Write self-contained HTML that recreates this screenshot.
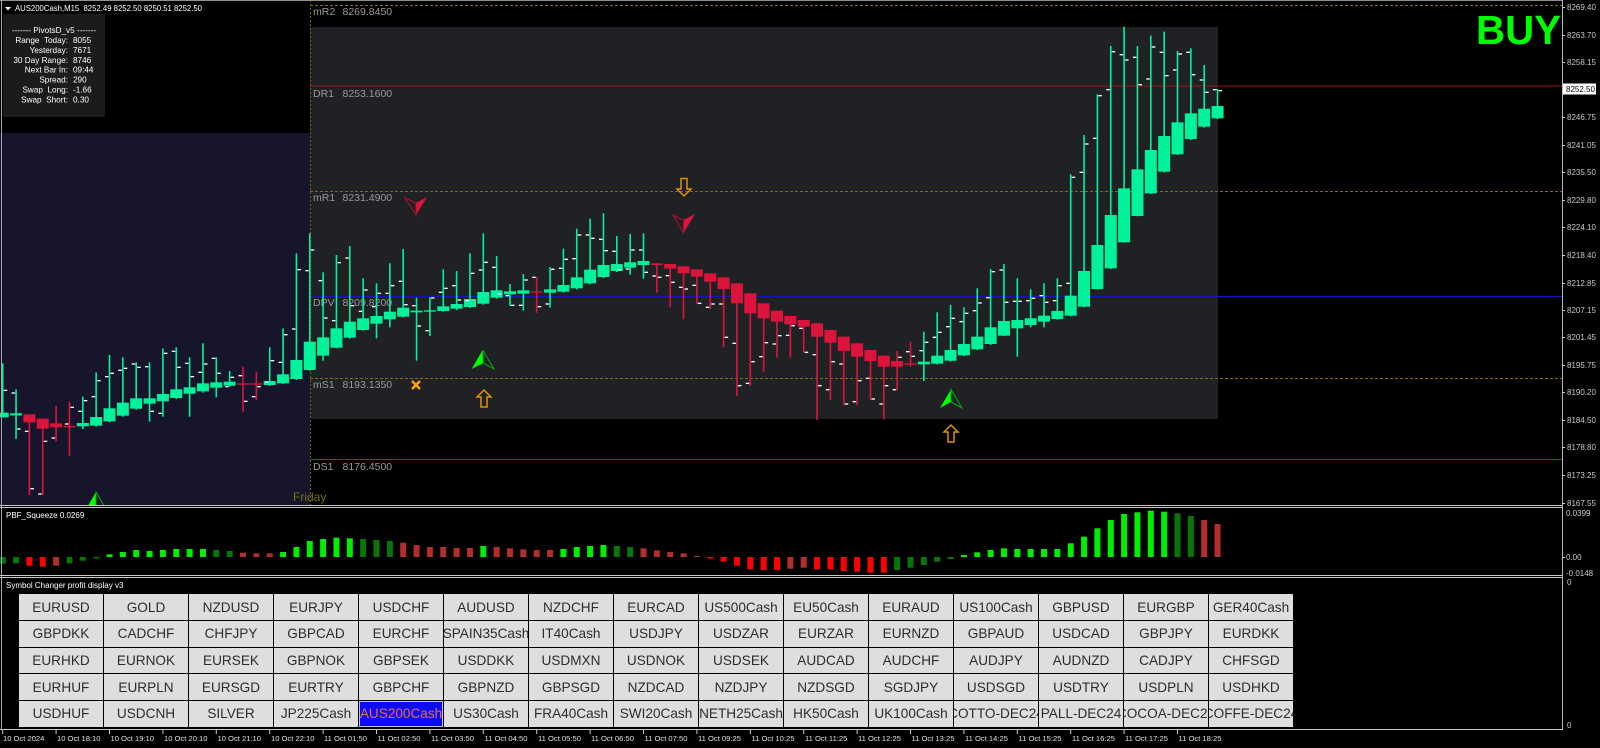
<!DOCTYPE html>
<html><head><meta charset="utf-8">
<style>
html,body{margin:0;padding:0;background:#000;}
body{width:1600px;height:748px;overflow:hidden;position:relative;font-family:"Liberation Sans",Arial,sans-serif;}
svg text{font-family:"Liberation Sans",Arial,sans-serif;white-space:pre;}
.g rect{fill:#00f39a}
.r rect{fill:#dc143c}
.g .d,.r .d{fill:#ffffff}
.G{fill:#00ee00}.dg{fill:#087508}.R{fill:#ff0000}.dr{fill:#b32d2d}
.b{position:absolute;width:84px;height:25.6px;background:#dedede;display:flex;align-items:center;justify-content:center;overflow:hidden;white-space:nowrap;font-size:13.6px;color:#2c2c2c;font-family:"Liberation Sans",Arial,sans-serif;}
.sel{background:#0a0aff;color:#f07028;box-shadow:inset 0 0 0 1px #c0c0ff;}
</style></head><body>
<svg width="1600" height="748" viewBox="0 0 1600 748" style="position:absolute;left:0;top:0">
<rect width="1600" height="748" fill="#000"/>
<defs><clipPath id="mc"><rect x="0" y="0" width="1562" height="505"/></clipPath></defs>
<g clip-path="url(#mc)">
<rect x="0" y="133" width="310" height="372" fill="#16152b"/>
<rect x="310" y="27" width="908" height="392" fill="#1f2124"/>
<line x1="310" y1="5.5" x2="1562" y2="5.5" stroke="#8a6a1a" stroke-dasharray="3,2"/>
<line x1="310" y1="86" x2="1562" y2="86" stroke="#a01515"/>
<line x1="310" y1="191.5" x2="1562" y2="191.5" stroke="#8a6a1a" stroke-dasharray="3,2"/>
<line x1="310" y1="296.5" x2="1562" y2="296.5" stroke="#1515c8"/>
<line x1="310" y1="378.5" x2="1562" y2="378.5" stroke="#8a6a1a" stroke-dasharray="3,2"/>
<line x1="310" y1="459.5" x2="1562" y2="459.5" stroke="#137013"/>
<line x1="310.5" y1="0" x2="310.5" y2="505" stroke="#7a6010" stroke-dasharray="2,2"/>
<g font-size="10.5" fill="#9a9a9a">
<text x="313" y="15">mR2</text><text x="342.5" y="15">8269.8450</text>
<text x="313" y="97">DR1</text><text x="342.5" y="97">8253.1600</text>
<text x="313" y="201">mR1</text><text x="342.5" y="201">8231.4900</text>
<text x="313" y="306">DPV</text><text x="342.5" y="306">8209.8200</text>
<text x="313" y="388">mS1</text><text x="342.5" y="388">8193.1350</text>
<text x="313" y="470">DS1</text><text x="342.5" y="470">8176.4500</text>
</g>
<text x="293" y="501" font-size="12" fill="#727212">Friday</text>

<g transform="translate(0,220) scale(1,0.333333)">
<g class="g" transform="translate(2.7)"><rect x="-.8" y="430" width="1.6" height="162"/><rect x="-6" y="578" width="12" height="14"/><rect class="d" x="1" y="509" width="3.5" height="4"/></g>
<g class="g" transform="translate(16.05)"><rect x="-.8" y="508" width="1.6" height="149"/><rect x="-6" y="580" width="12" height="6"/><rect class="d" x="-4.5" y="517" width="3.5" height="4"/><rect class="d" x="1" y="625" width="3.5" height="4"/></g>
<g class="r" transform="translate(29.4)"><rect x="-.8" y="583" width="1.6" height="242"/><rect x="-6" y="583" width="12" height="24"/><rect class="d" x="-4.5" y="632" width="3.5" height="4"/><rect class="d" x="1" y="804" width="3.5" height="4"/></g>
<g class="r" transform="translate(42.75)"><rect x="-.8" y="596" width="1.6" height="229"/><rect x="-6" y="596" width="12" height="30"/><rect class="d" x="1" y="662" width="3.5" height="4"/><rect class="d" x="-4.5" y="820" width="3.5" height="4"/></g>
<g class="r" transform="translate(56.1)"><rect x="-.8" y="558" width="1.6" height="106"/><rect x="-6" y="610" width="12" height="12"/><rect class="d" x="-4.5" y="652" width="3.5" height="4"/></g>
<g class="r" transform="translate(69.45)"><rect x="-.8" y="545" width="1.6" height="162"/><rect x="-6" y="618" width="12" height="4"/><rect class="d" x="1" y="560" width="3.5" height="4"/><rect class="d" x="-4.5" y="610" width="3.5" height="4"/></g>
<g class="g" transform="translate(82.8)"><rect x="-.8" y="530" width="1.6" height="97"/><rect x="-6" y="609" width="12" height="10"/><rect class="d" x="1" y="540" width="3.5" height="4"/><rect class="d" x="-4.5" y="572" width="3.5" height="4"/></g>
<g class="g" transform="translate(96.15)"><rect x="-.8" y="457" width="1.6" height="163"/><rect x="-6" y="591" width="12" height="26"/><rect class="d" x="1" y="480" width="3.5" height="4"/><rect class="d" x="-4.5" y="528" width="3.5" height="4"/></g>
<g class="g" transform="translate(109.5)"><rect x="-.8" y="405" width="1.6" height="202"/><rect x="-6" y="565" width="12" height="39"/><rect class="d" x="-4.5" y="468" width="3.5" height="4"/><rect class="d" x="1" y="458" width="3.5" height="4"/></g>
<g class="g" transform="translate(122.85)"><rect x="-.8" y="412" width="1.6" height="178"/><rect x="-6" y="548" width="12" height="39"/><rect class="d" x="-4.5" y="449" width="3.5" height="4"/><rect class="d" x="1" y="443" width="3.5" height="4"/></g>
<g class="g" transform="translate(136.2)"><rect x="-.8" y="427" width="1.6" height="142"/><rect x="-6" y="535" width="12" height="31"/><rect class="d" x="-4.5" y="430" width="3.5" height="4"/><rect class="d" x="1" y="440" width="3.5" height="4"/></g>
<g class="g" transform="translate(149.55)"><rect x="-.8" y="427" width="1.6" height="178"/><rect x="-6" y="535" width="12" height="16"/><rect class="d" x="-4.5" y="438" width="3.5" height="4"/><rect class="d" x="1" y="572" width="3.5" height="4"/></g>
<g class="g" transform="translate(162.9)"><rect x="-.8" y="385" width="1.6" height="205"/><rect x="-6" y="522" width="12" height="22"/><rect class="d" x="1" y="398" width="3.5" height="4"/><rect class="d" x="-4.5" y="578" width="3.5" height="4"/></g>
<g class="g" transform="translate(176.25)"><rect x="-.8" y="382" width="1.6" height="155"/><rect x="-6" y="508" width="12" height="26"/><rect class="d" x="-4.5" y="392" width="3.5" height="4"/><rect class="d" x="1" y="440" width="3.5" height="4"/></g>
<g class="g" transform="translate(189.6)"><rect x="-.8" y="412" width="1.6" height="178"/><rect x="-6" y="502" width="12" height="19"/><rect class="d" x="-4.5" y="428" width="3.5" height="4"/><rect class="d" x="1" y="468" width="3.5" height="4"/></g>
<g class="g" transform="translate(202.95)"><rect x="-.8" y="370" width="1.6" height="148"/><rect x="-6" y="490" width="12" height="24"/><rect class="d" x="1" y="430" width="3.5" height="4"/><rect class="d" x="-4.5" y="455" width="3.5" height="4"/></g>
<g class="g" transform="translate(216.3)"><rect x="-.8" y="412" width="1.6" height="120"/><rect x="-6" y="487" width="12" height="16"/><rect class="d" x="-4.5" y="413" width="3.5" height="4"/><rect class="d" x="1" y="458" width="3.5" height="4"/></g>
<g class="g" transform="translate(229.65)"><rect x="-.8" y="453" width="1.6" height="47"/><rect x="-6" y="485" width="12" height="12"/><rect class="d" x="1" y="470" width="3.5" height="4"/><rect class="d" x="-4.5" y="498" width="3.5" height="4"/></g>
<g class="r" transform="translate(243)"><rect x="-.8" y="440" width="1.6" height="135"/><rect x="-6" y="490" width="12" height="4"/><rect class="d" x="-4.5" y="465" width="3.5" height="4"/><rect class="d" x="1" y="542" width="3.5" height="4"/></g>
<g class="r" transform="translate(256.35)"><rect x="-.8" y="455" width="1.6" height="85"/><rect x="-6" y="490" width="12" height="4"/><rect class="d" x="1" y="498" width="3.5" height="4"/><rect class="d" x="-4.5" y="528" width="3.5" height="4"/></g>
<g class="g" transform="translate(269.7)"><rect x="-.8" y="382" width="1.6" height="116"/><rect x="-6" y="483" width="12" height="12"/><rect class="d" x="1" y="420" width="3.5" height="4"/><rect class="d" x="-4.5" y="485" width="3.5" height="4"/></g>
<g class="g" transform="translate(283.05)"><rect x="-.8" y="325" width="1.6" height="167"/><rect x="-6" y="463" width="12" height="27"/><rect class="d" x="1" y="342" width="3.5" height="4"/><rect class="d" x="-4.5" y="425" width="3.5" height="4"/></g>
<g class="g" transform="translate(296.4)"><rect x="-.8" y="100" width="1.6" height="380"/><rect x="-6" y="420" width="12" height="57"/><rect class="d" x="1" y="147" width="3.5" height="4"/><rect class="d" x="-4.5" y="325" width="3.5" height="4"/></g>
<g class="g" transform="translate(309.75)"><rect x="-.8" y="40" width="1.6" height="412"/><rect x="-6" y="365" width="12" height="85"/><rect class="d" x="1" y="88" width="3.5" height="4"/><rect class="d" x="-4.5" y="150" width="3.5" height="4"/></g>
<g class="g" transform="translate(323.1)"><rect x="-.8" y="157" width="1.6" height="265"/><rect x="-6" y="352" width="12" height="55"/><rect class="d" x="-4.5" y="180" width="3.5" height="4"/><rect class="d" x="1" y="292" width="3.5" height="4"/></g>
<g class="g" transform="translate(336.45)"><rect x="-.8" y="105" width="1.6" height="280"/><rect x="-6" y="325" width="12" height="58"/><rect class="d" x="1" y="126" width="3.5" height="4"/><rect class="d" x="-4.5" y="300" width="3.5" height="4"/></g>
<g class="g" transform="translate(349.8)"><rect x="-.8" y="78" width="1.6" height="278"/><rect x="-6" y="305" width="12" height="48"/><rect class="d" x="-4.5" y="112" width="3.5" height="4"/><rect class="d" x="1" y="255" width="3.5" height="4"/></g>
<g class="g" transform="translate(363.15)"><rect x="-.8" y="175" width="1.6" height="157"/><rect x="-6" y="295" width="12" height="35"/><rect class="d" x="1" y="208" width="3.5" height="4"/><rect class="d" x="-4.5" y="272" width="3.5" height="4"/></g>
<g class="g" transform="translate(376.5)"><rect x="-.8" y="190" width="1.6" height="165"/><rect x="-6" y="288" width="12" height="23"/><rect class="d" x="1" y="218" width="3.5" height="4"/><rect class="d" x="-4.5" y="258" width="3.5" height="4"/></g>
<g class="g" transform="translate(389.85)"><rect x="-.8" y="130" width="1.6" height="192"/><rect x="-6" y="275" width="12" height="23"/><rect class="d" x="1" y="195" width="3.5" height="4"/><rect class="d" x="-4.5" y="218" width="3.5" height="4"/></g>
<g class="g" transform="translate(403.2)"><rect x="-.8" y="87" width="1.6" height="205"/><rect x="-6" y="263" width="12" height="27"/><rect class="d" x="-4.5" y="182" width="3.5" height="4"/><rect class="d" x="1" y="252" width="3.5" height="4"/></g>
</g>

<g transform="translate(0,170) scale(1,0.333333)">
<g class="g" transform="translate(416.55)"><rect x="-.8" y="383" width="1.6" height="189"/><rect x="-6" y="422" width="12" height="5"/><rect class="d" x="-4.5" y="405" width="3.5" height="4"/><rect class="d" x="1" y="466" width="3.5" height="4"/></g>
<g class="g" transform="translate(429.9)"><rect x="-.8" y="382" width="1.6" height="116"/><rect x="-6" y="421" width="12" height="4"/><rect class="d" x="1" y="382" width="3.5" height="4"/><rect class="d" x="-4.5" y="480" width="3.5" height="4"/></g>
<g class="g" transform="translate(443.25)"><rect x="-.8" y="298" width="1.6" height="127"/><rect x="-6" y="409" width="12" height="14"/><rect class="d" x="1" y="353" width="3.5" height="4"/><rect class="d" x="-4.5" y="365" width="3.5" height="4"/></g>
<g class="g" transform="translate(456.6)"><rect x="-.8" y="303" width="1.6" height="117"/><rect x="-6" y="402" width="12" height="14"/><rect class="d" x="-4.5" y="345" width="3.5" height="4"/><rect class="d" x="1" y="388" width="3.5" height="4"/></g>
<g class="g" transform="translate(469.95)"><rect x="-.8" y="250" width="1.6" height="164"/><rect x="-6" y="387" width="12" height="24"/><rect class="d" x="1" y="308" width="3.5" height="4"/><rect class="d" x="-4.5" y="390" width="3.5" height="4"/></g>
<g class="g" transform="translate(483.3)"><rect x="-.8" y="190" width="1.6" height="214"/><rect x="-6" y="366" width="12" height="35"/><rect class="d" x="1" y="275" width="3.5" height="4"/><rect class="d" x="-4.5" y="298" width="3.5" height="4"/></g>
<g class="g" transform="translate(496.65)"><rect x="-.8" y="258" width="1.6" height="128"/><rect x="-6" y="361" width="12" height="22"/><rect class="d" x="-4.5" y="290" width="3.5" height="4"/><rect class="d" x="1" y="370" width="3.5" height="4"/></g>
<g class="g" transform="translate(510)"><rect x="-.8" y="342" width="1.6" height="66"/><rect x="-6" y="364" width="12" height="9"/><rect class="d" x="-4.5" y="375" width="3.5" height="4"/><rect class="d" x="1" y="404" width="3.5" height="4"/></g>
<g class="g" transform="translate(523.35)"><rect x="-.8" y="312" width="1.6" height="110"/><rect x="-6" y="361" width="12" height="10"/><rect class="d" x="1" y="328" width="3.5" height="4"/><rect class="d" x="-4.5" y="404" width="3.5" height="4"/></g>
<g class="r" transform="translate(536.7)"><rect x="-.8" y="320" width="1.6" height="108"/><rect x="-6" y="364" width="12" height="4"/><rect class="d" x="-4.5" y="320" width="3.5" height="4"/><rect class="d" x="1" y="408" width="3.5" height="4"/></g>
<g class="g" transform="translate(550.05)"><rect x="-.8" y="291" width="1.6" height="122"/><rect x="-6" y="358" width="12" height="10"/><rect class="d" x="1" y="296" width="3.5" height="4"/><rect class="d" x="-4.5" y="400" width="3.5" height="4"/></g>
<g class="g" transform="translate(563.4)"><rect x="-.8" y="236" width="1.6" height="132"/><rect x="-6" y="345" width="12" height="20"/><rect class="d" x="1" y="266" width="3.5" height="4"/><rect class="d" x="-4.5" y="293" width="3.5" height="4"/></g>
<g class="g" transform="translate(576.75)"><rect x="-.8" y="176" width="1.6" height="182"/><rect x="-6" y="322" width="12" height="33"/><rect class="d" x="1" y="193" width="3.5" height="4"/><rect class="d" x="-4.5" y="264" width="3.5" height="4"/></g>
<g class="g" transform="translate(590.1)"><rect x="-.8" y="146" width="1.6" height="197"/><rect x="-6" y="299" width="12" height="41"/><rect class="d" x="-4.5" y="193" width="3.5" height="4"/><rect class="d" x="1" y="203" width="3.5" height="4"/></g>
<g class="g" transform="translate(603.45)"><rect x="-.8" y="130" width="1.6" height="194"/><rect x="-6" y="285" width="12" height="36"/><rect class="d" x="-4.5" y="206" width="3.5" height="4"/><rect class="d" x="1" y="240" width="3.5" height="4"/></g>
<g class="g" transform="translate(616.8)"><rect x="-.8" y="198" width="1.6" height="108"/><rect x="-6" y="282" width="12" height="21"/><rect class="d" x="-4.5" y="242" width="3.5" height="4"/><rect class="d" x="1" y="297" width="3.5" height="4"/></g>
<g class="g" transform="translate(630.15)"><rect x="-.8" y="192" width="1.6" height="122"/><rect x="-6" y="277" width="12" height="16"/><rect class="d" x="1" y="238" width="3.5" height="4"/><rect class="d" x="-4.5" y="295" width="3.5" height="4"/></g>
<g class="g" transform="translate(643.5)"><rect x="-.8" y="190" width="1.6" height="136"/><rect x="-6" y="273" width="12" height="12"/><rect class="d" x="-4.5" y="238" width="3.5" height="4"/><rect class="d" x="1" y="305" width="3.5" height="4"/></g>
<g class="r" transform="translate(656.85)"><rect x="-.8" y="280" width="1.6" height="88"/><rect x="-6" y="280" width="12" height="5"/><rect class="d" x="-4.5" y="316" width="3.5" height="4"/><rect class="d" x="1" y="320" width="3.5" height="4"/></g>
<g class="r" transform="translate(670.2)"><rect x="-.8" y="282" width="1.6" height="130"/><rect x="-6" y="282" width="12" height="14"/><rect class="d" x="-4.5" y="315" width="3.5" height="4"/><rect class="d" x="1" y="335" width="3.5" height="4"/></g>
<g class="r" transform="translate(683.55)"><rect x="-.8" y="289" width="1.6" height="159"/><rect x="-6" y="289" width="12" height="21"/><rect class="d" x="-4.5" y="350" width="3.5" height="4"/><rect class="d" x="1" y="355" width="3.5" height="4"/></g>
<g class="r" transform="translate(696.9)"><rect x="-.8" y="298" width="1.6" height="105"/><rect x="-6" y="298" width="12" height="22"/><rect class="d" x="-4.5" y="344" width="3.5" height="4"/><rect class="d" x="1" y="398" width="3.5" height="4"/></g>
<g class="r" transform="translate(710.25)"><rect x="-.8" y="310" width="1.6" height="107"/><rect x="-6" y="310" width="12" height="25"/><rect class="d" x="-4.5" y="410" width="3.5" height="4"/><rect class="d" x="1" y="400" width="3.5" height="4"/></g>
<g class="r" transform="translate(723.6)"><rect x="-.8" y="322" width="1.6" height="210"/><rect x="-6" y="322" width="12" height="35"/><rect class="d" x="-4.5" y="400" width="3.5" height="4"/><rect class="d" x="1" y="500" width="3.5" height="4"/></g>
<g class="r" transform="translate(736.95)"><rect x="-.8" y="340" width="1.6" height="338"/><rect x="-6" y="340" width="12" height="60"/><rect class="d" x="-4.5" y="518" width="3.5" height="4"/><rect class="d" x="1" y="645" width="3.5" height="4"/></g>
<g class="r" transform="translate(750.3)"><rect x="-.8" y="370" width="1.6" height="278"/><rect x="-6" y="370" width="12" height="60"/><rect class="d" x="1" y="573" width="3.5" height="4"/><rect class="d" x="-4.5" y="638" width="3.5" height="4"/></g>
<g class="r" transform="translate(763.65)"><rect x="-.8" y="400" width="1.6" height="205"/><rect x="-6" y="400" width="12" height="45"/><rect class="d" x="1" y="516" width="3.5" height="4"/><rect class="d" x="-4.5" y="558" width="3.5" height="4"/></g>
<g class="r" transform="translate(777)"><rect x="-.8" y="422" width="1.6" height="141"/><rect x="-6" y="422" width="12" height="33"/><rect class="d" x="1" y="495" width="3.5" height="4"/><rect class="d" x="-4.5" y="520" width="3.5" height="4"/></g>
<g class="r" transform="translate(790.35)"><rect x="-.8" y="438" width="1.6" height="125"/><rect x="-6" y="438" width="12" height="25"/><rect class="d" x="1" y="465" width="3.5" height="4"/><rect class="d" x="-4.5" y="494" width="3.5" height="4"/></g>
<g class="r" transform="translate(803.7)"><rect x="-.8" y="450" width="1.6" height="98"/><rect x="-6" y="450" width="12" height="20"/><rect class="d" x="-4.5" y="473" width="3.5" height="4"/><rect class="d" x="1" y="545" width="3.5" height="4"/></g>
<g class="r" transform="translate(817.05)"><rect x="-.8" y="460" width="1.6" height="290"/><rect x="-6" y="460" width="12" height="40"/><rect class="d" x="-4.5" y="552" width="3.5" height="4"/><rect class="d" x="1" y="645" width="3.5" height="4"/></g>
</g>

<g transform="translate(0,15) scale(1,0.333333)">
<g class="r" transform="translate(830.4)"><rect x="-.8" y="945" width="1.6" height="210"/><rect x="-6" y="945" width="12" height="38"/><rect class="d" x="1" y="1038" width="3.5" height="4"/><rect class="d" x="-4.5" y="1122" width="3.5" height="4"/></g>
<g class="r" transform="translate(843.75)"><rect x="-.8" y="965" width="1.6" height="205"/><rect x="-6" y="965" width="12" height="43"/><rect class="d" x="-4.5" y="1045" width="3.5" height="4"/><rect class="d" x="1" y="1165" width="3.5" height="4"/></g>
<g class="r" transform="translate(857.1)"><rect x="-.8" y="985" width="1.6" height="185"/><rect x="-6" y="985" width="12" height="40"/><rect class="d" x="1" y="1095" width="3.5" height="4"/><rect class="d" x="-4.5" y="1158" width="3.5" height="4"/></g>
<g class="r" transform="translate(870.45)"><rect x="-.8" y="1005" width="1.6" height="150"/><rect x="-6" y="1005" width="12" height="33"/><rect class="d" x="-4.5" y="1088" width="3.5" height="4"/><rect class="d" x="1" y="1150" width="3.5" height="4"/></g>
<g class="r" transform="translate(883.8)"><rect x="-.8" y="1022" width="1.6" height="191"/><rect x="-6" y="1022" width="12" height="33"/><rect class="d" x="1" y="1110" width="3.5" height="4"/><rect class="d" x="-4.5" y="1165" width="3.5" height="4"/></g>
<g class="r" transform="translate(897.15)"><rect x="-.8" y="1008" width="1.6" height="117"/><rect x="-6" y="1038" width="12" height="17"/><rect class="d" x="1" y="1025" width="3.5" height="4"/><rect class="d" x="-4.5" y="1122" width="3.5" height="4"/></g>
<g class="r" transform="translate(910.5)"><rect x="-.8" y="980" width="1.6" height="75"/><rect x="-6" y="1045" width="12" height="4"/><rect class="d" x="-4.5" y="1008" width="3.5" height="4"/><rect class="d" x="1" y="1022" width="3.5" height="4"/></g>
<g class="g" transform="translate(923.85)"><rect x="-.8" y="950" width="1.6" height="148"/><rect x="-6" y="1040" width="12" height="8"/><rect class="d" x="1" y="980" width="3.5" height="4"/><rect class="d" x="-4.5" y="1005" width="3.5" height="4"/></g>
<g class="g" transform="translate(937.2)"><rect x="-.8" y="892" width="1.6" height="156"/><rect x="-6" y="1022" width="12" height="24"/><rect class="d" x="1" y="950" width="3.5" height="4"/><rect class="d" x="-4.5" y="965" width="3.5" height="4"/></g>
<g class="g" transform="translate(950.55)"><rect x="-.8" y="870" width="1.6" height="170"/><rect x="-6" y="1005" width="12" height="32"/><rect class="d" x="1" y="908" width="3.5" height="4"/><rect class="d" x="-4.5" y="933" width="3.5" height="4"/></g>
<g class="g" transform="translate(963.9)"><rect x="-.8" y="877" width="1.6" height="146"/><rect x="-6" y="987" width="12" height="34"/><rect class="d" x="1" y="893" width="3.5" height="4"/><rect class="d" x="-4.5" y="918" width="3.5" height="4"/></g>
<g class="g" transform="translate(977.25)"><rect x="-.8" y="820" width="1.6" height="185"/><rect x="-6" y="965" width="12" height="38"/><rect class="d" x="1" y="862" width="3.5" height="4"/><rect class="d" x="-4.5" y="885" width="3.5" height="4"/></g>
<g class="g" transform="translate(990.6)"><rect x="-.8" y="762" width="1.6" height="228"/><rect x="-6" y="937" width="12" height="50"/><rect class="d" x="1" y="768" width="3.5" height="4"/><rect class="d" x="-4.5" y="846" width="3.5" height="4"/></g>
<g class="g" transform="translate(1003.95)"><rect x="-.8" y="747" width="1.6" height="216"/><rect x="-6" y="918" width="12" height="44"/><rect class="d" x="-4.5" y="763" width="3.5" height="4"/><rect class="d" x="1" y="860" width="3.5" height="4"/></g>
<g class="g" transform="translate(1017.3)"><rect x="-.8" y="790" width="1.6" height="235"/><rect x="-6" y="915" width="12" height="25"/><rect class="d" x="-4.5" y="857" width="3.5" height="4"/><rect class="d" x="1" y="857" width="3.5" height="4"/></g>
<g class="g" transform="translate(1030.65)"><rect x="-.8" y="823" width="1.6" height="114"/><rect x="-6" y="910" width="12" height="20"/><rect class="d" x="1" y="848" width="3.5" height="4"/><rect class="d" x="-4.5" y="855" width="3.5" height="4"/></g>
<g class="g" transform="translate(1044)"><rect x="-.8" y="805" width="1.6" height="132"/><rect x="-6" y="902" width="12" height="18"/><rect class="d" x="-4.5" y="840" width="3.5" height="4"/><rect class="d" x="1" y="860" width="3.5" height="4"/></g>
<g class="g" transform="translate(1057.35)"><rect x="-.8" y="790" width="1.6" height="124"/><rect x="-6" y="888" width="12" height="24"/><rect class="d" x="1" y="810" width="3.5" height="4"/><rect class="d" x="-4.5" y="855" width="3.5" height="4"/></g>
<g class="g" transform="translate(1070.7)"><rect x="-.8" y="478" width="1.6" height="426"/><rect x="-6" y="842" width="12" height="60"/><rect class="d" x="1" y="485" width="3.5" height="4"/><rect class="d" x="-4.5" y="803" width="3.5" height="4"/></g>
<g class="g" transform="translate(1084.05)"><rect x="-.8" y="360" width="1.6" height="517"/><rect x="-6" y="768" width="12" height="107"/><rect class="d" x="1" y="385" width="3.5" height="4"/><rect class="d" x="-4.5" y="470" width="3.5" height="4"/></g>
<g class="g" transform="translate(1097.4)"><rect x="-.8" y="238" width="1.6" height="585"/><rect x="-6" y="690" width="12" height="132"/><rect class="d" x="1" y="240" width="3.5" height="4"/><rect class="d" x="-4.5" y="368" width="3.5" height="4"/></g>
<g class="g" transform="translate(1110.75)"><rect x="-.8" y="93" width="1.6" height="669"/><rect x="-6" y="600" width="12" height="160"/><rect class="d" x="1" y="108" width="3.5" height="4"/><rect class="d" x="-4.5" y="222" width="3.5" height="4"/></g>
<g class="g" transform="translate(1124.1)"><rect x="-.8" y="35" width="1.6" height="648"/><rect x="-6" y="520" width="12" height="162"/><rect class="d" x="1" y="133" width="3.5" height="4"/><rect class="d" x="-4.5" y="117" width="3.5" height="4"/></g>
<g class="g" transform="translate(1137.45)"><rect x="-.8" y="93" width="1.6" height="511"/><rect x="-6" y="463" width="12" height="140"/><rect class="d" x="-4.5" y="125" width="3.5" height="4"/><rect class="d" x="1" y="207" width="3.5" height="4"/></g>
<g class="g" transform="translate(1150.8)"><rect x="-.8" y="62" width="1.6" height="475"/><rect x="-6" y="405" width="12" height="130"/><rect class="d" x="1" y="94" width="3.5" height="4"/><rect class="d" x="-4.5" y="190" width="3.5" height="4"/></g>
<g class="g" transform="translate(1164.15)"><rect x="-.8" y="50" width="1.6" height="422"/><rect x="-6" y="363" width="12" height="107"/><rect class="d" x="-4.5" y="110" width="3.5" height="4"/><rect class="d" x="1" y="180" width="3.5" height="4"/></g>
<g class="g" transform="translate(1177.5)"><rect x="-.8" y="108" width="1.6" height="312"/><rect x="-6" y="322" width="12" height="96"/><rect class="d" x="1" y="115" width="3.5" height="4"/><rect class="d" x="-4.5" y="163" width="3.5" height="4"/></g>
<g class="g" transform="translate(1190.85)"><rect x="-.8" y="100" width="1.6" height="275"/><rect x="-6" y="295" width="12" height="77"/><rect class="d" x="-4.5" y="110" width="3.5" height="4"/><rect class="d" x="1" y="177" width="3.5" height="4"/></g>
<g class="g" transform="translate(1204.2)"><rect x="-.8" y="150" width="1.6" height="188"/><rect x="-6" y="281" width="12" height="54"/><rect class="d" x="-4.5" y="193" width="3.5" height="4"/><rect class="d" x="1" y="230" width="3.5" height="4"/></g>
<g class="g" transform="translate(1217.55)"><rect x="-.8" y="222" width="1.6" height="90"/><rect x="-6" y="273" width="12" height="37"/><rect class="d" x="-4.5" y="222" width="3.5" height="4"/><rect class="d" x="1" y="225" width="3.5" height="4"/></g>
</g>

<!-- arrows -->
<polygon points="416,203 427,197 416,215" fill="#dc143c"/>
<polygon points="405,198 416,203 416,215" fill="none" stroke="#b01030" stroke-width="1"/>
<polygon points="683.5,220 695,214 683.5,233" fill="#dc143c"/>
<polygon points="673,215 683.5,220 683.5,233" fill="none" stroke="#b01030" stroke-width="1"/>
<polygon points="482.7,350 471.7,369 483.3,363" fill="#00ff00"/>
<polygon points="482.7,350 483.3,363 494,369" fill="none" stroke="#00b000" stroke-width="1"/>
<polygon points="951,389.5 940,408 951,402" fill="#00ff00"/>
<polygon points="951,389.5 951,402 962,408" fill="none" stroke="#00b000" stroke-width="1"/>
<polygon points="96,492 85,511 96,505" fill="#00ff00"/>
<polygon points="96,492 96,505 107,511" fill="none" stroke="#00b000" stroke-width="1"/>
<polygon points="681,178.5 687,178.5 687,189 691,189 684,196 677,189 681,189" fill="none" stroke="#e0900a" stroke-width="1.5"/>
<polygon points="484,390 491,397 487,397 487,407 481,407 481,397 477,397" fill="none" stroke="#e0900a" stroke-width="1.5"/>
<polygon points="951,425 958,432 954,432 954,442 948,442 948,432 944,432" fill="none" stroke="#e0900a" stroke-width="1.5"/>
<line x1="412" y1="381" x2="420" y2="389" stroke="#ffa500" stroke-width="2.5"/>
<line x1="420" y1="381" x2="412" y2="389" stroke="#ffa500" stroke-width="2.5"/>
</g>

<text x="1476" y="44" font-size="41" font-weight="bold" fill="#00ff00" textLength="85" lengthAdjust="spacingAndGlyphs">BUY</text>

<!-- info panel -->
<rect x="3" y="14" width="102" height="103" fill="#1b1b1b"/>
<polygon points="5,7 11,7 8,10.5" fill="#ffffff"/>
<text x="15" y="11" font-size="8" fill="#ffffff" textLength="187" lengthAdjust="spacingAndGlyphs">AUS200Cash,M15  8252.49 8252.50 8250.51 8252.50</text>
<g font-size="8.2" fill="#ffffff">
<text x="54" y="33" text-anchor="middle">------- PivotsD_v5 -------</text>
<text x="68" y="43" text-anchor="end">Range  Today:</text><text x="73" y="43">8055</text>
<text x="68" y="52.9" text-anchor="end">Yesterday:</text><text x="73" y="52.9">7671</text>
<text x="68" y="62.8" text-anchor="end">30 Day Range:</text><text x="73" y="62.8">8746</text>
<text x="68" y="72.6" text-anchor="end">Next Bar In:</text><text x="73" y="72.6">09:44</text>
<text x="68" y="82.5" text-anchor="end">Spread:</text><text x="73" y="82.5">290</text>
<text x="68" y="92.4" text-anchor="end">Swap  Long:</text><text x="73" y="92.4">-1.66</text>
<text x="68" y="102.3" text-anchor="end">Swap  Short:</text><text x="73" y="102.3">0.30</text>
</g>

<!-- indicator -->
<text x="6" y="518" font-size="8" fill="#ffffff">PBF_Squeeze 0.0269</text>
<g transform="translate(0,490) scale(1,0.333333)">
<rect class="dg" x="-0.3" y="201" width="6" height="20"/>
<rect class="dg" x="13.05" y="201" width="6" height="19"/>
<rect class="R" x="26.4" y="201" width="6" height="26"/>
<rect class="R" x="39.75" y="201" width="6" height="29"/>
<rect class="dr" x="53.1" y="201" width="6" height="26"/>
<rect class="dg" x="66.45" y="201" width="6" height="19"/>
<rect class="dg" x="79.8" y="201" width="6" height="11"/>
<rect class="dg" x="93.15" y="201" width="6" height="4"/>
<rect class="G" x="106.5" y="193" width="6" height="8"/>
<rect class="G" x="119.85" y="186" width="6" height="15"/>
<rect class="G" x="133.2" y="180" width="6" height="21"/>
<rect class="G" x="146.55" y="183" width="6" height="18"/>
<rect class="G" x="159.9" y="180" width="6" height="21"/>
<rect class="G" x="173.25" y="177" width="6" height="24"/>
<rect class="G" x="186.6" y="177" width="6" height="24"/>
<rect class="G" x="199.95" y="177" width="6" height="24"/>
<rect class="dg" x="213.3" y="180" width="6" height="21"/>
<rect class="dg" x="226.65" y="183" width="6" height="18"/>
<rect class="dr" x="240" y="188" width="6" height="13"/>
<rect class="dr" x="253.35" y="190" width="6" height="11"/>
<rect class="dr" x="266.7" y="190" width="6" height="11"/>
<rect class="G" x="280.05" y="186" width="6" height="15"/>
<rect class="G" x="293.4" y="171" width="6" height="30"/>
<rect class="G" x="306.75" y="153" width="6" height="48"/>
<rect class="G" x="320.1" y="147" width="6" height="54"/>
<rect class="G" x="333.45" y="143" width="6" height="58"/>
<rect class="G" x="346.8" y="145" width="6" height="56"/>
<rect class="dg" x="360.15" y="147" width="6" height="54"/>
<rect class="dg" x="373.5" y="150" width="6" height="51"/>
<rect class="dg" x="386.85" y="153" width="6" height="48"/>
<rect class="dr" x="400.2" y="158" width="6" height="43"/>
<rect class="dr" x="413.55" y="165" width="6" height="36"/>
<rect class="dr" x="426.9" y="171" width="6" height="30"/>
<rect class="dr" x="440.25" y="171" width="6" height="30"/>
<rect class="dr" x="453.6" y="174" width="6" height="27"/>
<rect class="dr" x="466.95" y="174" width="6" height="27"/>
<rect class="G" x="480.3" y="168" width="6" height="33"/>
<rect class="dr" x="493.65" y="171" width="6" height="30"/>
<rect class="dr" x="507" y="175" width="6" height="26"/>
<rect class="dr" x="520.35" y="178" width="6" height="23"/>
<rect class="dr" x="533.7" y="180" width="6" height="21"/>
<rect class="dr" x="547.05" y="180" width="6" height="21"/>
<rect class="G" x="560.4" y="177" width="6" height="24"/>
<rect class="G" x="573.75" y="171" width="6" height="30"/>
<rect class="G" x="587.1" y="168" width="6" height="33"/>
<rect class="G" x="600.45" y="165" width="6" height="36"/>
<rect class="dg" x="613.8" y="168" width="6" height="33"/>
<rect class="dg" x="627.15" y="171" width="6" height="30"/>
<rect class="dr" x="640.5" y="175" width="6" height="26"/>
<rect class="dr" x="653.85" y="181" width="6" height="20"/>
<rect class="dr" x="667.2" y="186" width="6" height="15"/>
<rect class="dr" x="680.55" y="190" width="6" height="11"/>
<rect class="dr" x="693.9" y="198" width="6" height="3"/>
<rect class="R" x="707.25" y="201" width="6" height="4"/>
<rect class="R" x="720.6" y="201" width="6" height="14"/>
<rect class="R" x="733.95" y="201" width="6" height="26"/>
<rect class="R" x="747.3" y="201" width="6" height="37"/>
<rect class="R" x="760.65" y="201" width="6" height="39"/>
<rect class="R" x="774" y="201" width="6" height="39"/>
<rect class="dr" x="787.35" y="201" width="6" height="35"/>
<rect class="dr" x="800.7" y="201" width="6" height="32"/>
<rect class="R" x="814.05" y="201" width="6" height="37"/>
<rect class="R" x="827.4" y="201" width="6" height="37"/>
<rect class="R" x="840.75" y="201" width="6" height="42"/>
<rect class="R" x="854.1" y="201" width="6" height="44"/>
<rect class="R" x="867.45" y="201" width="6" height="47"/>
<rect class="R" x="880.8" y="201" width="6" height="47"/>
<rect class="dg" x="894.15" y="201" width="6" height="39"/>
<rect class="dg" x="907.5" y="201" width="6" height="32"/>
<rect class="dg" x="920.85" y="201" width="6" height="24"/>
<rect class="dg" x="934.2" y="201" width="6" height="14"/>
<rect class="dg" x="947.55" y="201" width="6" height="6"/>
<rect class="G" x="960.9" y="195" width="6" height="6"/>
<rect class="G" x="974.25" y="187" width="6" height="14"/>
<rect class="G" x="987.6" y="180" width="6" height="21"/>
<rect class="G" x="1000.95" y="175" width="6" height="26"/>
<rect class="G" x="1014.3" y="177" width="6" height="24"/>
<rect class="G" x="1027.65" y="177" width="6" height="24"/>
<rect class="G" x="1041" y="177" width="6" height="24"/>
<rect class="G" x="1054.35" y="177" width="6" height="24"/>
<rect class="G" x="1067.7" y="160" width="6" height="41"/>
<rect class="G" x="1081.05" y="140" width="6" height="61"/>
<rect class="G" x="1094.4" y="115" width="6" height="86"/>
<rect class="G" x="1107.75" y="90" width="6" height="111"/>
<rect class="G" x="1121.1" y="72" width="6" height="129"/>
<rect class="G" x="1134.45" y="67" width="6" height="134"/>
<rect class="G" x="1147.8" y="62" width="6" height="139"/>
<rect class="G" x="1161.15" y="65" width="6" height="136"/>
<rect class="dg" x="1174.5" y="70" width="6" height="131"/>
<rect class="dg" x="1187.85" y="78" width="6" height="123"/>
<rect class="dr" x="1201.2" y="90" width="6" height="111"/>
<rect class="dr" x="1214.55" y="102" width="6" height="99"/>
</g>

<!-- symbol panel label -->
<text x="6" y="588" font-size="8" fill="#ffffff">Symbol Changer profit display v3</text>

<!-- price axis -->
<g font-size="8" fill="#c8c8c8">
<text x="1567" y="10">8269.40</text>
<text x="1567" y="38">8263.70</text>
<text x="1567" y="65">8258.15</text>
<text x="1567" y="120">8246.75</text>
<text x="1567" y="148">8241.05</text>
<text x="1567" y="175">8235.50</text>
<text x="1567" y="203">8229.80</text>
<text x="1567" y="230">8224.10</text>
<text x="1567" y="258">8218.40</text>
<text x="1567" y="286">8212.85</text>
<text x="1567" y="313">8207.15</text>
<text x="1567" y="340">8201.45</text>
<text x="1567" y="368">8195.75</text>
<text x="1567" y="395">8190.20</text>
<text x="1567" y="423">8184.50</text>
<text x="1567" y="450">8178.80</text>
<text x="1567" y="478">8173.25</text>
<text x="1567" y="506">8167.55</text>
<text x="1566" y="516">0.0399</text>
<text x="1566" y="560">0.00</text>
<text x="1566" y="576">-0.0148</text>
<text x="1567" y="585">0</text>
<text x="1567" y="728">0</text>
</g>
<g stroke="#c8c8c8" stroke-width="1">
<line x1="1562" y1="7.5" x2="1565" y2="7.5"/><line x1="1562" y1="35.5" x2="1565" y2="35.5"/><line x1="1562" y1="62.5" x2="1565" y2="62.5"/><line x1="1562" y1="117.5" x2="1565" y2="117.5"/><line x1="1562" y1="145.5" x2="1565" y2="145.5"/><line x1="1562" y1="172.5" x2="1565" y2="172.5"/><line x1="1562" y1="200.5" x2="1565" y2="200.5"/><line x1="1562" y1="227.5" x2="1565" y2="227.5"/><line x1="1562" y1="255.5" x2="1565" y2="255.5"/><line x1="1562" y1="283.5" x2="1565" y2="283.5"/><line x1="1562" y1="310.5" x2="1565" y2="310.5"/><line x1="1562" y1="337.5" x2="1565" y2="337.5"/><line x1="1562" y1="365.5" x2="1565" y2="365.5"/><line x1="1562" y1="392.5" x2="1565" y2="392.5"/><line x1="1562" y1="420.5" x2="1565" y2="420.5"/><line x1="1562" y1="447.5" x2="1565" y2="447.5"/><line x1="1562" y1="475.5" x2="1565" y2="475.5"/><line x1="1562" y1="503.5" x2="1565" y2="503.5"/><line x1="1562" y1="557.5" x2="1565" y2="557.5"/>
</g>
<rect x="1563" y="83.5" width="33" height="11" fill="#ffffff"/>
<text x="1566" y="92" font-size="8" fill="#000">8252.50</text>

<!-- frames / separators -->
<line x1="0" y1="0.5" x2="1562" y2="0.5" stroke="#909090"/>
<line x1="1.5" y1="0" x2="1.5" y2="730" stroke="#a8a8a8"/>
<line x1="1562.5" y1="0" x2="1562.5" y2="730" stroke="#b8b8b8"/>
<line x1="0" y1="505.5" x2="1562" y2="505.5" stroke="#c8c8c8"/>
<line x1="0" y1="507.5" x2="1562" y2="507.5" stroke="#c8c8c8"/>
<line x1="0" y1="575.5" x2="1562" y2="575.5" stroke="#c8c8c8"/>
<line x1="0" y1="577.5" x2="1562" y2="577.5" stroke="#c8c8c8"/>
<line x1="0" y1="729.5" x2="1562" y2="729.5" stroke="#c8c8c8"/>

<!-- time axis -->
<g stroke="#c8c8c8">
<line x1="2.7" y1="730" x2="2.7" y2="734"/><line x1="56.1" y1="730" x2="56.1" y2="734"/><line x1="109.5" y1="730" x2="109.5" y2="734"/><line x1="162.9" y1="730" x2="162.9" y2="734"/><line x1="216.3" y1="730" x2="216.3" y2="734"/><line x1="269.7" y1="730" x2="269.7" y2="734"/><line x1="323.1" y1="730" x2="323.1" y2="734"/><line x1="376.5" y1="730" x2="376.5" y2="734"/><line x1="429.9" y1="730" x2="429.9" y2="734"/><line x1="483.3" y1="730" x2="483.3" y2="734"/><line x1="536.7" y1="730" x2="536.7" y2="734"/><line x1="590.1" y1="730" x2="590.1" y2="734"/><line x1="643.5" y1="730" x2="643.5" y2="734"/><line x1="696.9" y1="730" x2="696.9" y2="734"/><line x1="750.3" y1="730" x2="750.3" y2="734"/><line x1="803.7" y1="730" x2="803.7" y2="734"/><line x1="857.1" y1="730" x2="857.1" y2="734"/><line x1="910.5" y1="730" x2="910.5" y2="734"/><line x1="963.9" y1="730" x2="963.9" y2="734"/><line x1="1017.3" y1="730" x2="1017.3" y2="734"/><line x1="1070.7" y1="730" x2="1070.7" y2="734"/><line x1="1124.1" y1="730" x2="1124.1" y2="734"/><line x1="1177.5" y1="730" x2="1177.5" y2="734"/>
</g>
<g font-size="7.6" fill="#e0e0e0">
<text x="3" y="741">10 Oct 2024</text>
<text x="57" y="741">10 Oct 18:10</text>
<text x="110.5" y="741">10 Oct 19:10</text>
<text x="164" y="741">10 Oct 20:10</text>
<text x="217.5" y="741">10 Oct 21:10</text>
<text x="271" y="741">10 Oct 22:10</text>
<text x="324" y="741">11 Oct 01:50</text>
<text x="377.5" y="741">11 Oct 02:50</text>
<text x="431" y="741">11 Oct 03:50</text>
<text x="484.5" y="741">11 Oct 04:50</text>
<text x="538" y="741">11 Oct 05:50</text>
<text x="591" y="741">11 Oct 06:50</text>
<text x="644.5" y="741">11 Oct 07:50</text>
<text x="698" y="741">11 Oct 09:25</text>
<text x="751.5" y="741">11 Oct 10:25</text>
<text x="805" y="741">11 Oct 11:25</text>
<text x="858" y="741">11 Oct 12:25</text>
<text x="911.5" y="741">11 Oct 13:25</text>
<text x="965" y="741">11 Oct 14:25</text>
<text x="1018.5" y="741">11 Oct 15:25</text>
<text x="1072" y="741">11 Oct 16:25</text>
<text x="1125" y="741">11 Oct 17:25</text>
<text x="1178.5" y="741">11 Oct 18:25</text>
</g>
</svg>

<!-- buttons -->
<div class="b" style="left:19px;top:594.3px">EURUSD</div>
<div class="b" style="left:104px;top:594.3px">GOLD</div>
<div class="b" style="left:189px;top:594.3px">NZDUSD</div>
<div class="b" style="left:274px;top:594.3px">EURJPY</div>
<div class="b" style="left:359px;top:594.3px">USDCHF</div>
<div class="b" style="left:444px;top:594.3px">AUDUSD</div>
<div class="b" style="left:529px;top:594.3px">NZDCHF</div>
<div class="b" style="left:614px;top:594.3px">EURCAD</div>
<div class="b" style="left:699px;top:594.3px">US500Cash</div>
<div class="b" style="left:784px;top:594.3px">EU50Cash</div>
<div class="b" style="left:869px;top:594.3px">EURAUD</div>
<div class="b" style="left:954px;top:594.3px">US100Cash</div>
<div class="b" style="left:1039px;top:594.3px">GBPUSD</div>
<div class="b" style="left:1124px;top:594.3px">EURGBP</div>
<div class="b" style="left:1209px;top:594.3px">GER40Cash</div>

<div class="b" style="left:19px;top:621px">GBPDKK</div>
<div class="b" style="left:104px;top:621px">CADCHF</div>
<div class="b" style="left:189px;top:621px">CHFJPY</div>
<div class="b" style="left:274px;top:621px">GBPCAD</div>
<div class="b" style="left:359px;top:621px">EURCHF</div>
<div class="b" style="left:444px;top:621px">SPAIN35Cash</div>
<div class="b" style="left:529px;top:621px">IT40Cash</div>
<div class="b" style="left:614px;top:621px">USDJPY</div>
<div class="b" style="left:699px;top:621px">USDZAR</div>
<div class="b" style="left:784px;top:621px">EURZAR</div>
<div class="b" style="left:869px;top:621px">EURNZD</div>
<div class="b" style="left:954px;top:621px">GBPAUD</div>
<div class="b" style="left:1039px;top:621px">USDCAD</div>
<div class="b" style="left:1124px;top:621px">GBPJPY</div>
<div class="b" style="left:1209px;top:621px">EURDKK</div>

<div class="b" style="left:19px;top:647.7px">EURHKD</div>
<div class="b" style="left:104px;top:647.7px">EURNOK</div>
<div class="b" style="left:189px;top:647.7px">EURSEK</div>
<div class="b" style="left:274px;top:647.7px">GBPNOK</div>
<div class="b" style="left:359px;top:647.7px">GBPSEK</div>
<div class="b" style="left:444px;top:647.7px">USDDKK</div>
<div class="b" style="left:529px;top:647.7px">USDMXN</div>
<div class="b" style="left:614px;top:647.7px">USDNOK</div>
<div class="b" style="left:699px;top:647.7px">USDSEK</div>
<div class="b" style="left:784px;top:647.7px">AUDCAD</div>
<div class="b" style="left:869px;top:647.7px">AUDCHF</div>
<div class="b" style="left:954px;top:647.7px">AUDJPY</div>
<div class="b" style="left:1039px;top:647.7px">AUDNZD</div>
<div class="b" style="left:1124px;top:647.7px">CADJPY</div>
<div class="b" style="left:1209px;top:647.7px">CHFSGD</div>

<div class="b" style="left:19px;top:674.3px">EURHUF</div>
<div class="b" style="left:104px;top:674.3px">EURPLN</div>
<div class="b" style="left:189px;top:674.3px">EURSGD</div>
<div class="b" style="left:274px;top:674.3px">EURTRY</div>
<div class="b" style="left:359px;top:674.3px">GBPCHF</div>
<div class="b" style="left:444px;top:674.3px">GBPNZD</div>
<div class="b" style="left:529px;top:674.3px">GBPSGD</div>
<div class="b" style="left:614px;top:674.3px">NZDCAD</div>
<div class="b" style="left:699px;top:674.3px">NZDJPY</div>
<div class="b" style="left:784px;top:674.3px">NZDSGD</div>
<div class="b" style="left:869px;top:674.3px">SGDJPY</div>
<div class="b" style="left:954px;top:674.3px">USDSGD</div>
<div class="b" style="left:1039px;top:674.3px">USDTRY</div>
<div class="b" style="left:1124px;top:674.3px">USDPLN</div>
<div class="b" style="left:1209px;top:674.3px">USDHKD</div>

<div class="b" style="left:19px;top:701px">USDHUF</div>
<div class="b" style="left:104px;top:701px">USDCNH</div>
<div class="b" style="left:189px;top:701px">SILVER</div>
<div class="b" style="left:274px;top:701px">JP225Cash</div>
<div class="b sel" style="left:359px;top:701px">AUS200Cash</div>
<div class="b" style="left:444px;top:701px">US30Cash</div>
<div class="b" style="left:529px;top:701px">FRA40Cash</div>
<div class="b" style="left:614px;top:701px">SWI20Cash</div>
<div class="b" style="left:699px;top:701px">NETH25Cash</div>
<div class="b" style="left:784px;top:701px">HK50Cash</div>
<div class="b" style="left:869px;top:701px">UK100Cash</div>
<div class="b" style="left:954px;top:701px">COTTO-DEC24</div>
<div class="b" style="left:1039px;top:701px">PALL-DEC24</div>
<div class="b" style="left:1124px;top:701px">COCOA-DEC24</div>
<div class="b" style="left:1209px;top:701px">COFFE-DEC24</div>
</body></html>
